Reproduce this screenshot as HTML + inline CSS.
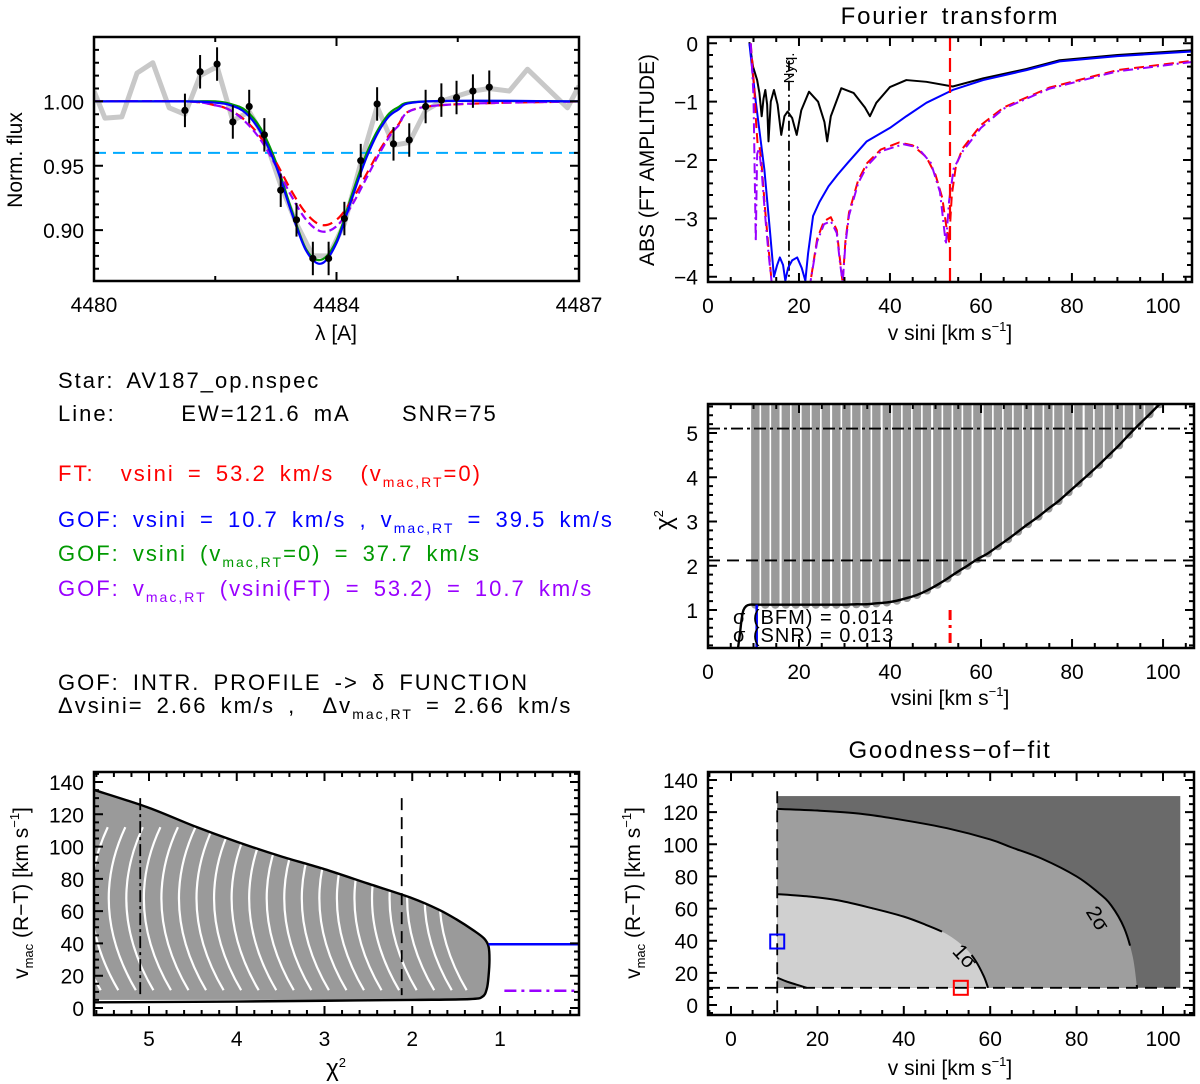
<!DOCTYPE html>
<html><head><meta charset="utf-8"><style>
body{margin:0;background:#fff}
svg{display:block;font-family:"Liberation Sans",sans-serif}
.info text{letter-spacing:2px;word-spacing:5px}
.ttl{letter-spacing:1.8px;word-spacing:4px}
</style></head><body>
<svg id="fig" xmlns="http://www.w3.org/2000/svg" width="1200" height="1084" viewBox="0 0 1200 1084">
<defs>
<clipPath id="c1"><rect x="94" y="37" width="485" height="244"/></clipPath>
<clipPath id="c2"><rect x="708" y="37" width="484" height="245"/></clipPath>
<clipPath id="c3"><rect x="708" y="404" width="486" height="244"/></clipPath>
<clipPath id="c4"><rect x="94" y="772" width="485" height="243"/></clipPath>
<clipPath id="c5"><rect x="708" y="772" width="486" height="243"/></clipPath>
</defs>
<g class="info" font-size="22">
<text x="58" y="388" fill="#000">Star: AV187_op.nspec</text>
<text x="58" y="421" fill="#000" xml:space="preserve">Line:     EW=121.6 mA    SNR=75</text>
<text x="58" y="481" fill="#ff0000" xml:space="preserve">FT:  vsini = 53.2 km/s  (v<tspan font-size="14" dy="6">mac,RT</tspan><tspan dy="-6">=0)</tspan></text>
<text x="58" y="527" fill="#0000ff" xml:space="preserve">GOF: vsini = 10.7 km/s , v<tspan font-size="14" dy="6">mac,RT</tspan><tspan dy="-6"> = 39.5 km/s</tspan></text>
<text x="58" y="561" fill="#009900" xml:space="preserve">GOF: vsini (v<tspan font-size="14" dy="6">mac,RT</tspan><tspan dy="-6">=0) = 37.7 km/s</tspan></text>
<text x="58" y="596" fill="#9900ff" xml:space="preserve">GOF: v<tspan font-size="14" dy="6">mac,RT</tspan><tspan dy="-6"> (vsini(FT) = 53.2) = 10.7 km/s</tspan></text>
<text x="58" y="690" fill="#000" xml:space="preserve">GOF: INTR. PROFILE -&gt; δ FUNCTION</text>
<text x="58" y="713" fill="#000" xml:space="preserve">Δvsini= 2.66 km/s ,  Δv<tspan font-size="14" dy="6">mac,RT</tspan><tspan dy="-6"> = 2.66 km/s</tspan></text>
</g>
</svg>
<script>
// ---------- Panel 1 data: line profile ----------
const obsWl   = [4481.50,4481.75,4482.03,4482.29,4482.56,4482.81,4483.08,4483.34,4483.61,4483.87,4484.13,4484.40,4484.67,4484.94,4485.20,4485.47,4485.73,4485.98,4486.25,4486.52];
const obsFlux = [0.993,1.023,1.029,0.984,0.996,0.974,0.931,0.908,0.878,0.878,0.909,0.954,0.998,0.967,0.970,0.996,1.001,1.003,1.008,1.011];
const obsErr  = 0.013;
const grayWl   = [4480.0,4480.18,4480.46,4480.71,4480.97,4481.24,4481.50,4481.75,4482.03,4482.29,4482.56,4482.81,4483.08,4483.34,4483.61,4483.87,4484.13,4484.40,4484.67,4484.94,4485.20,4485.47,4485.73,4485.98,4486.25,4486.52,4486.85,4487.15,4487.81,4488.0];
const grayFlux = [1.008,0.987,0.988,1.022,1.030,0.995,0.990,1.020,1.027,0.985,0.992,0.972,0.935,0.905,0.880,0.880,0.905,0.952,0.996,0.966,0.968,0.993,1.000,1.004,1.008,1.010,1.008,1.025,0.995,1.012];
const modWl    = [4480.0,4481.5,4482.0,4482.25,4482.5,4482.75,4483.0,4483.25,4483.5,4483.75,4484.0,4484.25,4484.5,4484.75,4485.0,4485.5,4488.0];
const blueFlux   = [1,1,0.999,0.997,0.991,0.976,0.950,0.915,0.884,0.874,0.890,0.924,0.957,0.981,0.993,1.000,1];
const greenFlux  = [1,1,1.000,0.998,0.993,0.979,0.953,0.917,0.885,0.877,0.892,0.927,0.960,0.983,0.995,1.000,1];
const redFlux    = [1,1,0.997,0.993,0.985,0.972,0.953,0.931,0.913,0.904,0.908,0.923,0.944,0.965,0.981,0.996,1];
const purpleFlux = [1,1,0.997,0.993,0.984,0.970,0.950,0.927,0.908,0.899,0.903,0.919,0.941,0.963,0.980,0.996,1];
const depthLevel = 0.960;
const p1XTicks = [4480,4484,4488];
const p1XLabels = ["4480","4484","4487"];
const p1YTicks = [0.90,0.95,1.00];
const p1YLabels = ["0.90","0.95","1.00"];

// ---------- Panel 2 data: Fourier transform ----------
const ftBlackV = [9.1,9.9,10.8,11.3,11.8,12.2,12.6,13.0,13.3,13.8,14.5,15.3,16.1,16.8,17.5,18.5,19.5,20.5,22.2,24.2,25.6,26.2,27.0,29.3,32.0,34.5,35.6,37.0,40.0,43.6,48.0,53.8,60.5,70.0,77.3,90.0,106.4];
const ftBlackA = [0.02,-0.40,-0.63,-0.85,-1.25,-0.95,-0.80,-1.05,-1.68,-1.00,-0.80,-1.05,-1.57,-1.25,-1.17,-1.28,-1.57,-1.15,-0.83,-1.00,-1.35,-1.68,-1.25,-0.77,-0.85,-1.10,-1.25,-1.02,-0.75,-0.63,-0.66,-0.74,-0.60,-0.44,-0.29,-0.20,-0.12];
const ftBlueV = [9.1,10.5,12.4,13.6,14.5,15.2,15.8,16.5,17.0,17.6,18.5,19.6,20.6,21.4,22.0,23.1,24.5,26.5,28.5,30.7,34.9,40.0,43.6,48.0,53.8,60.5,70.0,77.3,90.0,106.4];
const ftBlueA = [0.0,-1.00,-2.17,-3.20,-4.00,-3.80,-3.67,-3.80,-4.07,-3.85,-3.72,-3.67,-3.85,-4.07,-3.60,-2.96,-2.72,-2.45,-2.25,-2.05,-1.68,-1.45,-1.25,-1.02,-0.80,-0.63,-0.46,-0.31,-0.22,-0.14];
const ftRedV = [9.4,10.2,10.6,10.9,11.3,11.8,12.5,13.3,14.0,22.5,24.0,25.5,27.0,28.3,29.0,29.6,30.2,31.0,33.0,35.0,38.0,42.0,45.0,48.0,50.0,51.5,52.5,53.0,53.6,54.5,56.0,60.0,65.0,75.0,90.0,106.4];
const ftRedA = [0.0,-0.80,-1.40,-1.72,-1.75,-2.10,-2.80,-3.50,-4.10,-4.10,-3.35,-3.05,-2.98,-3.20,-3.70,-4.10,-3.40,-2.90,-2.35,-2.05,-1.82,-1.70,-1.75,-1.95,-2.25,-2.65,-3.20,-3.40,-2.60,-2.10,-1.80,-1.40,-1.10,-0.76,-0.46,-0.30];
const ftPurpV = [9.4,10.0,10.5,10.8,11.2,11.8,12.5,13.3,14.0,22.5,24.0,25.5,27.0,28.3,29.0,29.6,30.2,31.0,33.0,35.0,38.0,43.0,46.0,49.0,51.0,52.3,53.0,54.0,56.0,60.0,65.0,75.0,90.0,106.4];
const ftPurpA = [0.0,-0.90,-3.40,-1.90,-1.80,-2.20,-2.90,-3.60,-4.10,-4.10,-3.40,-3.10,-3.05,-3.25,-3.75,-4.10,-3.45,-2.95,-2.40,-2.10,-1.85,-1.73,-1.78,-2.05,-2.55,-3.45,-2.70,-2.15,-1.85,-1.45,-1.12,-0.78,-0.48,-0.32];
const nyquistV = 17.8;
const ftVsini = 53.2;
const p2XTicks = [0,20,40,60,80,100];
const p2YTicks = [0,-1,-2,-3,-4];

// ---------- Panel 3 data: chi2 vs vsini ----------
const colV   = [10.4,12.6,14.8,17.1,19.3,21.5,23.7,25.9,28.2,30.4,32.6,34.8,37.0,39.3,41.5,43.7,45.9,48.1,50.4,52.6,54.8,57.0,59.2,61.5,63.7,65.9,68.1,70.3,72.6,74.8,77.0,79.2,81.4,83.7,85.9,88.1,90.3,92.5,94.8,97.0,99.2];
const colMin = [1.12,1.12,1.12,1.12,1.12,1.12,1.12,1.12,1.12,1.12,1.13,1.13,1.15,1.17,1.21,1.27,1.34,1.44,1.57,1.71,1.86,2.00,2.15,2.28,2.44,2.60,2.77,2.94,3.11,3.29,3.46,3.66,3.86,4.07,4.28,4.50,4.72,4.96,5.20,5.42,5.65];
const chiLeftV = [6.6,7.0,7.4,7.8,8.4,9.2];
const chiLeftC = [0.14,0.45,0.80,1.00,1.09,1.12];
const chi1sig = 5.10;
const chi2lev = 2.12;
const gofVsini = 10.7;
const p3XTicks = [0,20,40,60,80,100];
const p3YTicks = [1,2,3,4,5];

// ---------- Panel 4 data: vmac vs chi2 ----------
const envChi  = [5.62,5.0,4.5,4.0,3.5,3.0,2.5,2.0,1.7,1.5,1.3,1.18,1.13,1.12,1.13,1.15,1.2,1.35,2.0,3.0,4.0,5.62];
const envVmac = [135,124,113,103,94,86,77,68,61,55,48,43,38,30,20,12,7,5.5,5,4.5,4,3.5];
const arcChi  = [5.55,5.35,5.15,4.95,4.75,4.55,4.35,4.15,3.95,3.75,3.55,3.35,3.15,2.95,2.75,2.55,2.35,2.15,1.95,1.75,1.55,1.38];
const gofVmac = 39.5;
const purpVmac = 10.7;
const p4XTicks = [5,4,3,2,1];
const p4YTicks = [0,20,40,60,80,100,120,140];

// ---------- Panel 5 data: goodness-of-fit contours ----------
const gridVsini = [10.7,104];
const gridVmac  = [10.7,130];
const sig2V = [10.7,20,30,40,50,60,65,72,80,85,88,91,93,94];
const sig2M = [122,121,119,115,110,103,98,91,80,70,62,48,30,10.7];
const sig1V = [10.7,18,25,33,40,45,50,54,56.5,58.5,59.5];
const sig1M = [69,67.5,65,60,55,50,44,36,28,18,10.7];
const cornV = [10.7,13,15,17.5];
const cornM = [17,14.5,12.8,10.7];
const bestGof = [10.7,39.5];
const bestFt  = [53.2,10.7];
const p5XTicks = [0,20,40,60,80,100];
const p5YTicks = [0,20,40,60,80,100,120,140];

// ---------- helpers ----------
const NS = 'http://www.w3.org/2000/svg';
const svg = document.getElementById('fig');
function mk(tag, attrs, parent){
  const e = document.createElementNS(NS, tag);
  for (const k in attrs) e.setAttribute(k, attrs[k]);
  (parent || svg).appendChild(e);
  return e;
}
function lin(d0,d1,r0,r1){ return v => r0 + (v-d0)*(r1-r0)/(d1-d0); }
function smooth(pts){
  if (pts.length < 2) return '';
  let d = 'M' + pts[0][0].toFixed(2) + ',' + pts[0][1].toFixed(2);
  for (let i=0;i<pts.length-1;i++){
    const p0 = pts[Math.max(0,i-1)], p1 = pts[i], p2 = pts[i+1], p3 = pts[Math.min(pts.length-1,i+2)];
    const c1x = p1[0] + (p2[0]-p0[0])/6, c1y = p1[1] + (p2[1]-p0[1])/6;
    const c2x = p2[0] - (p3[0]-p1[0])/6, c2y = p2[1] - (p3[1]-p1[1])/6;
    d += 'C'+c1x.toFixed(2)+','+c1y.toFixed(2)+' '+c2x.toFixed(2)+','+c2y.toFixed(2)+' '+p2[0].toFixed(2)+','+p2[1].toFixed(2);
  }
  return d;
}
function poly(pts){ return pts.map(p=>p[0].toFixed(2)+','+p[1].toFixed(2)).join(' '); }

function frame(g, x0,x1,y0,y1, sx, sy, xt, xl, xminor, yt, yl, yminor){
  const fr = mk('rect',{x:x0,y:y0,width:x1-x0,height:y1-y0,fill:'none',stroke:'#000','stroke-width':2.5},g);
  
  
  let tk = '';
  xt.forEach(v=>{ const x=sx(v); tk+=`M${x},${y1}v-9M${x},${y0}v9`; });
  xminor.forEach(v=>{ const x=sx(v); if(x>x0+1&&x<x1-1) tk+=`M${x},${y1}v-5M${x},${y0}v5`; });
  yt.forEach(v=>{ const y=sy(v); tk+=`M${x0},${y}h9M${x1},${y}h-9`; });
  yminor.forEach(v=>{ const y=sy(v); if(y>y0+1&&y<y1-1) tk+=`M${x0},${y}h5M${x1},${y}h-5`; });
  const t = mk('path',{d:tk,stroke:'#000','stroke-width':2,fill:'none'},g);
  
  
  xt.forEach((v,i)=>{
    const l = mk('text',{x:sx(v),y:y1+31,'text-anchor':'middle','font-size':21},g);
    l.textContent = xl[i];
    
    
  });
  yt.forEach((v,i)=>{
    const l = mk('text',{x:x0-10,y:sy(v)+8,'text-anchor':'end','font-size':21},g);
    l.textContent = yl[i];
    
    
  });
}
function range(a,b,s){ const r=[]; for(let v=a; v<=b+1e-9; v+=s) r.push(+v.toFixed(4)); return r; }
function label(g, x, y, txt, name, rot, size){
  const t = mk('text',{x:x,y:y,'text-anchor':'middle','font-size':size||21},g);
  if (rot) t.setAttribute('transform',`rotate(-90 ${x} ${y})`);
  t.innerHTML = txt;
  
  
  return t;
}

// ================= Panel 1 =================
(function(){
  const g = mk('g',{});
  
  
  const sx = lin(4480,4488,94,579), sy = lin(0.8605,1.05,281,37);
  const cg = mk('g',{'clip-path':'url(#c1)'},g);
  const gray = mk('polyline',{points:poly(grayWl.map((w,i)=>[sx(w),sy(grayFlux[i])])),fill:'none',stroke:'#c8c8c8','stroke-width':5,'stroke-linejoin':'round'},cg);
  
  
  const dl = mk('line',{x1:94,x2:579,y1:sy(depthLevel),y2:sy(depthLevel),stroke:'#00aaff','stroke-width':2,'stroke-dasharray':'12,7'},cg);
  
  
  const mods = [[greenFlux,'#009900',''],[redFlux,'#ff0000','10,6'],[purpleFlux,'#9900ff','8,4'],[blueFlux,'#0000ff','']];
  const mnames = ['green-model','red-ft-model','purple-model','blue-gof-model'];
  mods.forEach((m,k)=>{
    const p = mk('path',{d:smooth(modWl.map((w,i)=>[sx(w),sy(m[0][i])])),fill:'none',stroke:m[1],'stroke-width':2.2,'stroke-dasharray':m[2]},cg);
    
    
  });
  obsWl.forEach((w,i)=>{
    const e = mk('line',{x1:sx(w),x2:sx(w),y1:sy(obsFlux[i]-obsErr),y2:sy(obsFlux[i]+obsErr),stroke:'#000','stroke-width':2},cg);
    
    
    const c = mk('circle',{cx:sx(w),cy:sy(obsFlux[i]),r:3.6,fill:'#000'},cg);
    
    
  });
  frame(g,94,579,37,281,sx,sy,p1XTicks,p1XLabels,[4482,4486],p1YTicks,p1YLabels,range(0.87,1.04,0.01));
  label(g,336,340,'λ [A]','x-axis-title');
  label(g,22,160,'Norm. flux','y-axis-title',true);
})();

// ================= Panel 2 =================
(function(){
  const g = mk('g',{});
  
  
  const sx = lin(0,106.4,708,1192), sy = lin(0,-4,43.3,276.7);
  const cg = mk('g',{'clip-path':'url(#c2)'},g);
  const ny = mk('line',{x1:sx(nyquistV),x2:sx(nyquistV),y1:sy(-0.3),y2:282,stroke:'#000','stroke-width':1.8,'stroke-dasharray':'10,4,2,4'},cg);
  
  
  const series = [[ftBlackV,ftBlackA,'#000','','ft-observed'],[ftBlueV,ftBlueA,'#0000ff','','ft-gof-model'],[ftRedV,ftRedA,'#ff0000','10,5','ft-red-model'],[ftPurpV,ftPurpA,'#9900ff','10,4,2,4','ft-purple-model']];
  series.forEach(s=>{
    const p = mk('polyline',{points:poly(s[0].map((v,i)=>[sx(v),sy(s[1][i])])),fill:'none',stroke:s[2],'stroke-width':2,'stroke-dasharray':s[3],'stroke-linejoin':'round'},cg);
    
    
  });
  const rv = mk('line',{x1:sx(ftVsini),x2:sx(ftVsini),y1:37,y2:282,stroke:'#ff0000','stroke-width':2.2,'stroke-dasharray':'14,7'},cg);
  
  
  label(g,sx(nyquistV)+5,68,'Nyq.','nyquist-label',true,15);
  frame(g,708,1192,37,282,sx,sy,p2XTicks,p2XTicks.map(String),range(0,105,5),p2YTicks,['0','−1','−2','−3','−4'],range(-4,0,0.2));
  label(g,950,24,'Fourier transform','chart-title',false,24).setAttribute('class','ttl');
  label(g,950,340,'v sini [km s<tspan font-size="13" dy="-9">−1</tspan><tspan dy="9">]</tspan>','x-axis-title');
  label(g,654,160,'ABS (FT AMPLITUDE)','y-axis-title',true);
})();

// ================= Panel 3 =================
(function(){
  const g = mk('g',{});
  
  
  const sx = lin(0,106.8,708,1194), sy = lin(1,5,610,433);
  const cg = mk('g',{'clip-path':'url(#c3)'},g);
  colV.forEach((v,i)=>{
    const yb = sy(colMin[i]);
    const r = mk('rect',{x:sx(v)-4.2,y:396,width:8.4,height:Math.max(0,yb-396+4),rx:4,fill:'#9a9a9a'},cg);
    
    
  });
  const hl1 = mk('line',{x1:708,x2:1194,y1:sy(chi1sig),y2:sy(chi1sig),stroke:'#000','stroke-width':1.8,'stroke-dasharray':'12,4,3,4'},cg);
  
  
  const hl2 = mk('line',{x1:708,x2:1194,y1:sy(chi2lev),y2:sy(chi2lev),stroke:'#000','stroke-width':1.8,'stroke-dasharray':'12,7'},cg);
  
  
  const pts = chiLeftV.map((v,i)=>[sx(v),sy(chiLeftC[i])]).concat(colV.map((v,i)=>[sx(v),sy(colMin[i])]));
  const cv = mk('path',{d:smooth(pts),fill:'none',stroke:'#000','stroke-width':2.4},cg);
  
  
  const bl = mk('line',{x1:sx(gofVsini),x2:sx(gofVsini),y1:sy(1.12),y2:648,stroke:'#0000ff','stroke-width':2.5},cg);
  
  
  const rl = mk('line',{x1:sx(ftVsini),x2:sx(ftVsini),y1:sy(1.0),y2:648,stroke:'#ff0000','stroke-width':3,'stroke-dasharray':'10,5,3,5'},cg);
  
  
  const s1 = mk('text',{x:733,y:624,'font-size':20,'letter-spacing':'1px'},g);
  s1.textContent = 'σ (BFM)  =  0.014';
  
  
  const s2 = mk('text',{x:733,y:642,'font-size':20,'letter-spacing':'1px'},g);
  s2.textContent = 'σ (SNR)  =  0.013';
  
  
  frame(g,708,1194,404,648,sx,sy,p3XTicks,p3XTicks.map(String),range(0,105,5),p3YTicks,p3YTicks.map(String),range(0.2,5.6,0.2));
  label(g,950,705,'vsini [km s<tspan font-size="13" dy="-9">−1</tspan><tspan dy="9">]</tspan>','x-axis-title');
  label(g,672,520,'χ<tspan font-size="13" dy="-9">2</tspan>','y-axis-title',true,24);
})();

// ================= Panel 4 =================
(function(){
  const g = mk('g',{});
  
  
  const sx = lin(1,5,500,149), sy = lin(0,140,1008,782);
  const cg = mk('g',{'clip-path':'url(#c4)'},g);
  const cp = mk('clipPath',{id:'envclip'},cg);
  const envPts = envChi.map((c,i)=>[sx(c),sy(envVmac[i])]);
  mk('polygon',{points:poly(envPts.slice(0,envPts.length-5).concat([[sx(1.35),sy(5.5)],[sx(2),sy(6)],[sx(5.62),sy(6)]]))},cp);
  const fillP = mk('polygon',{points:poly(envPts.slice(0,envPts.length-5).concat([[sx(1.35),sy(5.5)],[sx(2),sy(5)],[sx(5.62),sy(5)]])),fill:'#9a9a9a'},cg);
  
  
  const ag = mk('g',{'clip-path':'url(#envclip)'},cg);
  arcChi.forEach(c=>{
    const a = mk('path',{d:`M${sx(c)},${sy(11)} Q${sx(c+0.55)},${sy(62)} ${sx(c+0.12)},${sy(112)}`,fill:'none',stroke:'#fff','stroke-width':2.2},ag);
    
    
  });
  const env = mk('path',{d:smooth(envPts),fill:'none',stroke:'#000','stroke-width':2.4},cg);
  
  
  const v1 = mk('line',{x1:sx(chi1sig),x2:sx(chi1sig),y1:sy(130),y2:sy(8),stroke:'#000','stroke-width':1.8,'stroke-dasharray':'12,4,3,4'},cg);
  
  
  const v2 = mk('line',{x1:sx(chi2lev),x2:sx(chi2lev),y1:sy(130),y2:sy(8),stroke:'#000','stroke-width':1.8,'stroke-dasharray':'12,7'},cg);
  
  
  const bl = mk('line',{x1:sx(1.13),x2:579,y1:sy(gofVmac),y2:sy(gofVmac),stroke:'#0000ff','stroke-width':2.5},cg);
  
  
  const pl = mk('line',{x1:sx(0.95),x2:579,y1:sy(purpVmac),y2:sy(purpVmac),stroke:'#9900ff','stroke-width':2.5,'stroke-dasharray':'12,5,3,5'},cg);
  
  
  frame(g,94,579,772,1015,sx,sy,p4XTicks,p4XTicks.map(String),range(0.2,5.6,0.2),p4YTicks,p4YTicks.map(String),range(0,145,5));
  label(g,336,1076,'χ<tspan font-size="13" dy="-9">2</tspan>','x-axis-title',false,24);
  label(g,28,893,'v<tspan font-size="13" dy="5">mac</tspan><tspan dy="-5"> (R−T) [km s</tspan><tspan font-size="13" dy="-9">−1</tspan><tspan dy="9">]</tspan>','y-axis-title',true);
})();

// ================= Panel 5 =================
(function(){
  const g = mk('g',{});
  
  
  const sx = lin(0,100,731,1163), sy = lin(0,140,1005,780);
  const cg = mk('g',{'clip-path':'url(#c5)'},g);
  const dark = mk('rect',{x:sx(gridVsini[0]),y:sy(gridVmac[1]),width:sx(gridVsini[1])-sx(gridVsini[0]),height:sy(gridVmac[0])-sy(gridVmac[1]),fill:'#6a6a6a'},cg);
  
  
  const p2 = sig2V.map((v,i)=>[sx(v),sy(sig2M[i])]);
  const r2 = mk('path',{d:smooth(p2)+`L${sx(10.7)},${sy(10.7)}Z`,fill:'#9e9e9e'},cg);
  
  
  const p1 = sig1V.map((v,i)=>[sx(v),sy(sig1M[i])]);
  const r1 = mk('path',{d:smooth(p1)+`L${sx(10.7)},${sy(10.7)}Z`,fill:'#d0d0d0'},cg);
  
  
  const pc = cornV.map((v,i)=>[sx(v),sy(cornM[i])]);
  const rc = mk('path',{d:smooth(pc)+`L${sx(10.7)},${sy(10.7)}Z`,fill:'#9e9e9e'},cg);
  
  
  const c2 = mk('path',{d:smooth(p2),fill:'none',stroke:'#000','stroke-width':2,'stroke-dasharray':'400,40,200'},cg);
  
  
  const c1 = mk('path',{d:smooth(p1),fill:'none',stroke:'#000','stroke-width':2,'stroke-dasharray':'170,38,200'},cg);
  
  
  const cc = mk('path',{d:smooth(pc),fill:'none',stroke:'#000','stroke-width':2},cg);
  
  
  const l1 = mk('text',{x:sx(51),y:sy(33),'font-size':21,transform:`rotate(48 ${sx(51)} ${sy(33)})`},cg);
  l1.textContent = '1σ';
  
  
  const l2 = mk('text',{x:sx(82),y:sy(58),'font-size':21,transform:`rotate(58 ${sx(82)} ${sy(58)})`},cg);
  l2.textContent = '2σ';
  
  
  const vd = mk('line',{x1:sx(gofVsini),x2:sx(gofVsini),y1:sy(133),y2:1015,stroke:'#000','stroke-width':1.8,'stroke-dasharray':'12,7'},cg);
  
  
  const hd = mk('line',{x1:708,x2:1194,y1:sy(10.7),y2:sy(10.7),stroke:'#000','stroke-width':1.8,'stroke-dasharray':'12,7'},cg);
  
  
  const bq = mk('rect',{x:sx(bestGof[0])-7,y:sy(bestGof[1])-7,width:14,height:14,fill:'none',stroke:'#0000ff','stroke-width':2},cg);
  
  
  const rq = mk('rect',{x:sx(bestFt[0])-7,y:sy(bestFt[1])-7,width:14,height:14,fill:'none',stroke:'#ff0000','stroke-width':2},cg);
  
  
  frame(g,708,1194,772,1015,sx,sy,p5XTicks,p5XTicks.map(String),range(-5,105,5),p5YTicks,p5YTicks.map(String),range(-5,145,5));
  label(g,950,758,'Goodness−of−fit','chart-title',false,24).setAttribute('class','ttl');
  label(g,950,1075,'v sini [km s<tspan font-size="13" dy="-9">−1</tspan><tspan dy="9">]</tspan>','x-axis-title');
  label(g,640,893,'v<tspan font-size="13" dy="5">mac</tspan><tspan dy="-5"> (R−T) [km s</tspan><tspan font-size="13" dy="-9">−1</tspan><tspan dy="9">]</tspan>','y-axis-title',true);
})();
</script>
</body></html>
